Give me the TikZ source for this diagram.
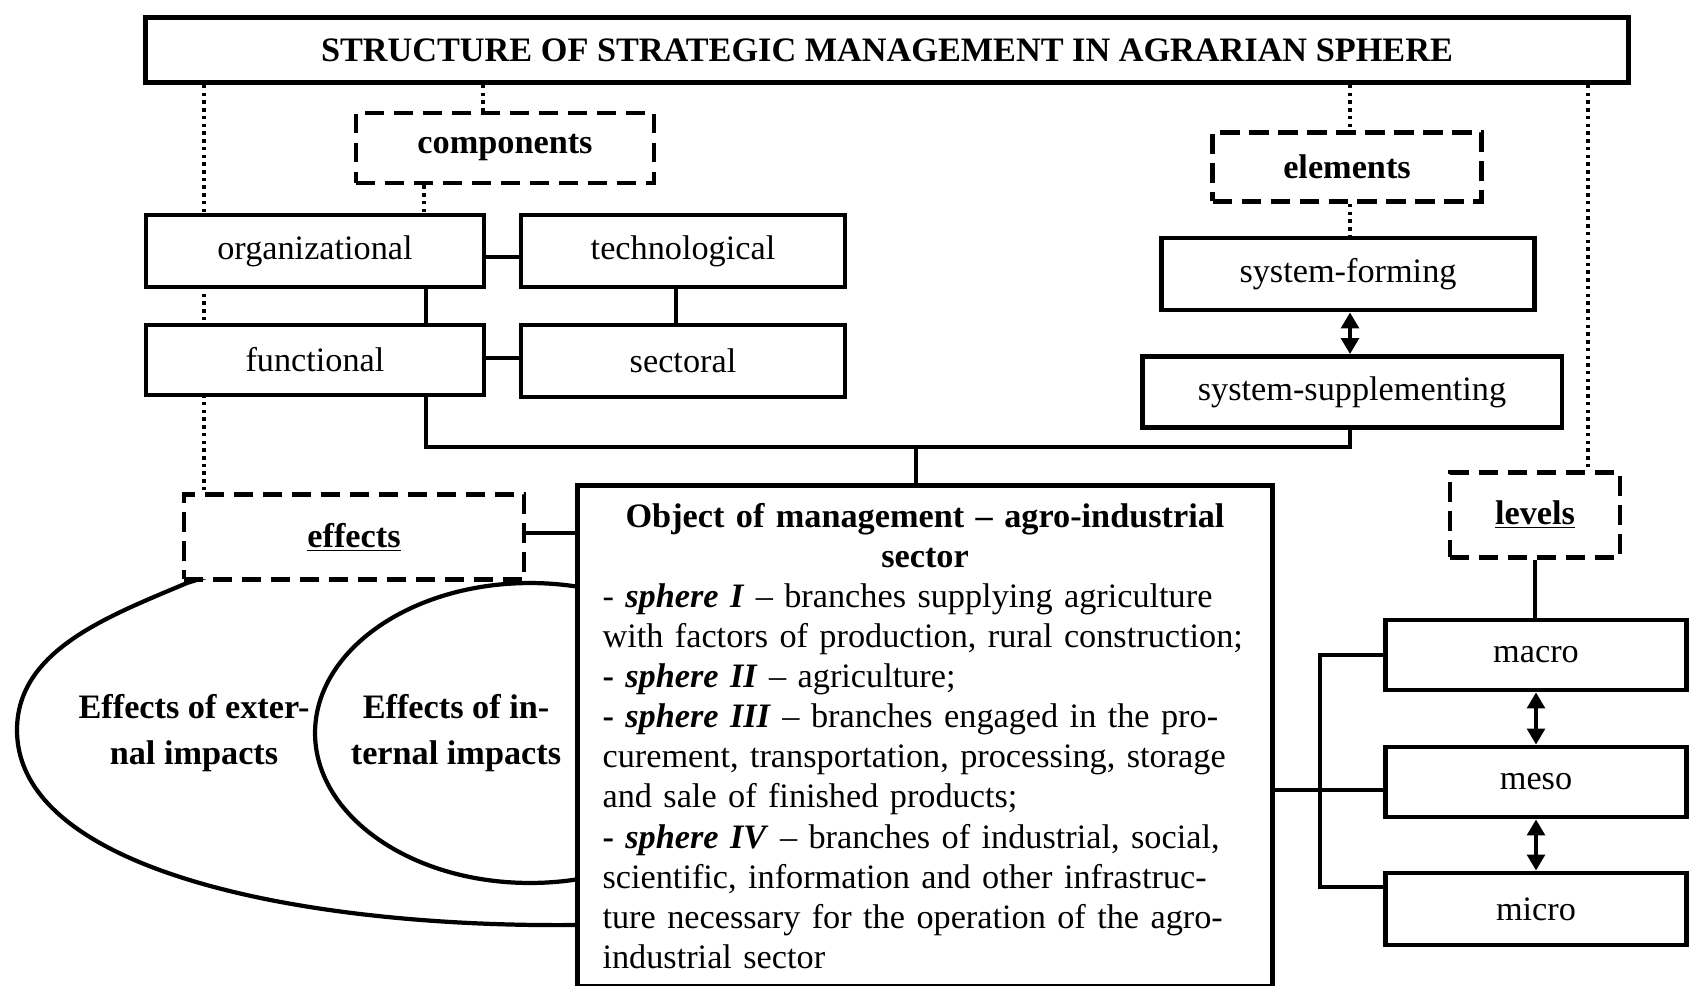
\documentclass[tikz,border=0pt]{standalone}
\usepackage{fontspec}
\setmainfont{Liberation Serif}
\usetikzlibrary{arrows.meta,positioning,backgrounds}

\begin{document}
\begin{tikzpicture}[x=0.02cm,y=-0.02cm,
  font=\fontsize{19.5}{22.8}\selectfont,
  box/.style={draw,line width=2.8pt,fill=white,inner sep=0pt,minimum height=1.42cm},
  dashbox/.style={box,dash pattern=on 11pt off 5.5pt,font=\fontsize{19.5}{22.8}\selectfont\bfseries},
  dotline/.style={line width=2.2pt,dash pattern=on 2pt off 2.4pt},
  link/.style={line width=2pt},
  twoway/.style={link,{Triangle[length=9pt,width=10pt]}-{Triangle[length=9pt,width=10pt]}}]
\useasboundingbox (0,0) rectangle (1690,986);

% Effects ellipses
\draw[line width=2.4pt] (260,560) -- (187,583) .. controls (109,616) and (17,650) .. (17,730)
  .. controls (17,870) and (300,928) .. (578,925) -- (640,926);
\draw[line width=2.4pt] (530,733) ellipse [x radius=4.3cm,y radius=3cm];

% Title
\node[box,minimum width=29.66cm,minimum height=1.3cm,font=\fontsize{19.5}{22.8}\selectfont\bfseries] (title) at (887,50) {STRUCTURE OF STRATEGIC MANAGEMENT IN AGRARIAN SPHERE};

% Components
\node[dashbox,minimum width=5.96cm,minimum height=1.4cm] (comps) at (505,148) {components};
\node[box,minimum width=6.76cm,minimum height=1.44cm] (org) at (315,251) {organizational};
\node[box,minimum width=6.48cm,minimum height=1.44cm] (tech) at (683,251) {technological};
\node[box,minimum width=6.76cm,minimum height=1.4cm] (func) at (315,360) {functional};
\node[box,minimum width=6.48cm,minimum height=1.44cm] (sect) at (683,361) {sectoral};

% Elements
\node[dashbox,minimum width=5.38cm,minimum height=1.38cm] (elems) at (1347,167) {elements};
\node[box,minimum width=7.46cm,minimum height=1.44cm] (sysform) at (1348,274) {system-forming};
\node[box,minimum width=8.4cm,minimum height=1.42cm] (syssupp) at (1352,392) {system-supplementing};

% Object of management
\node[box,minimum width=13.9cm,minimum height=10.04cm,text width=12.9cm,align=left] (obj) at (925,736) {%
{\centering\bfseries Object of management – agro-industrial\\ sector\par}
- \textbf{\textit{sphere I}} – branches supplying agriculture\\
with factors of production, rural construction;\\
\textbf{- \textit{sphere II}} – agriculture;\\
\textbf{- \textit{sphere III}} – branches engaged in the pro-\\
curement, transportation, processing, storage\\
and sale of finished products;\\
\textbf{- \textit{sphere IV}} – branches of industrial, social,\\
scientific, information and other infrastruc-\\
ture necessary for the operation of the agro-\\
industrial sector};

% Effects
\node[dashbox,minimum width=6.8cm,minimum height=1.7cm] (effects) at (354,537) {\underline{effects}};
\node[font=\fontsize{19.5}{26}\selectfont\bfseries,align=center] (extfx) at (194,733) {Effects of exter-\\nal impacts};
\node[font=\fontsize{19.5}{26}\selectfont\bfseries,align=center] (intfx) at (456,733) {Effects of in-\\ternal impacts};

% Levels
\node[dashbox,minimum width=3.4cm,minimum height=1.7cm] (levels) at (1535,515) {\underline{levels}};
\node[box,minimum width=6.02cm,minimum height=1.4cm] (macro) at (1536,655) {macro};
\node[box,minimum width=6.02cm,minimum height=1.4cm] (meso) at (1536,782) {meso};
\node[box,minimum width=6.02cm,minimum height=1.44cm] (micro) at (1536,909) {micro};

% Connections
\coordinate (bus) at (916,447);
\begin{scope}[on background layer]
\draw[dotline] (title.south -| 204,0) -- (effects.north -| 204,0);
\draw[dotline] (title.south -| 483,0) -- (comps.north -| 483,0);
\draw[dotline] (comps.south -| 424,0) -- (org.north -| 424,0);
\draw[dotline] (title.south -| 1350,0) -- (elems.north -| 1350,0);
\draw[dotline] (elems.south -| 1350,0) -- (sysform.north -| 1350,0);
\draw[dotline] (title.south -| 1588,0) -- (levels.north -| 1588,0);

\draw[link] (org.east |- 0,257) -- (tech.west |- 0,257);
\draw[link] (func.east |- 0,358) -- (sect.west |- 0,358);
\draw[link] (org.south -| 426,0) -- (func.north -| 426,0);
\draw[link] (tech.south -| 676,0) -- (sect.north -| 676,0);
\draw[link] (func.south -| 426,0) |- (bus) -| (syssupp.south -| 1350,0);
\draw[link] (bus) -- (obj.north -| bus);
\draw[twoway] (sysform.south -| 1350,0) -- (syssupp.north -| 1350,0);

\draw[link] (effects.east |- 0,533) -- (obj.west |- 0,533);

\draw[link] (levels.south) -- (levels.south |- macro.north);
\draw[twoway] (macro.south) -- (meso.north);
\draw[twoway] (meso.south) -- (micro.north);
\draw[link] (macro.west) -| (1320,887) -- (micro.west |- 0,887);
\draw[link] (obj.east |- 0,790) -- (meso.west |- 0,790);
\end{scope}
\end{tikzpicture}
\end{document}
